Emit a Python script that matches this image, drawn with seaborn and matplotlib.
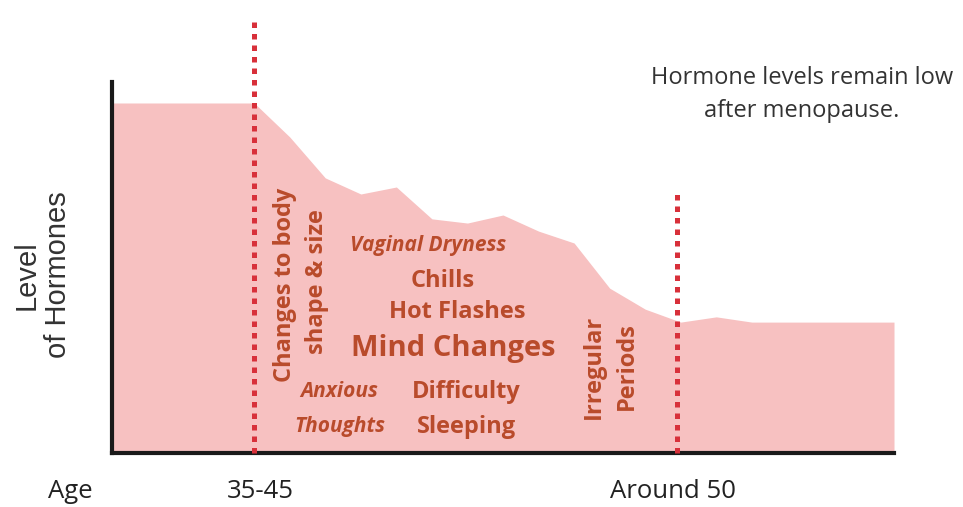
import matplotlib
matplotlib.use("Agg")
import matplotlib.pyplot as plt
import matplotlib.transforms as mtransforms
import seaborn as sns
import numpy as np
import pandas as pd

# ---- data ----
step = list(range(23))
level = [100, 100, 100, 100, 100, 90.3, 78.6, 74.0, 76.0, 66.9, 65.7, 68.0, 63.4,
         60.0, 47.1, 41.1, 37.4, 38.9, 37.4, 37.4, 37.4, 37.4, 37.4]
marker_x = [4, 15.9]
marker_top = [125, 74.8]
age_labels = ["Age", "35-45", "Around 50"]
age_x = [-1.18, 4.16, 15.78]

symptoms = [
    ("Changes to body", 4.86, 48, 90, "normal"),
    ("shape & size", 5.76, 49, 90, "normal"),
    ("Vaginal Dryness", 8.9, 59.2, 0, "italic"),
    ("Chills", 9.3, 49.1, 0, "normal"),
    ("Hot Flashes", 9.7, 40.4, 0, "normal"),
    ("Mind Changes", 9.6, 29.9, 0, "normal"),
    ("Anxious", 6.4, 17.6, 0, "italic"),
    ("Thoughts", 6.4, 7.7, 0, "italic"),
    ("Difficulty", 9.97, 17.3, 0, "normal"),
    ("Sleeping", 9.97, 7.4, 0, "normal"),
    ("Irregular", 13.56, 24.6, 90, "normal"),
    ("Periods", 14.48, 24.9, 90, "normal"),
]
sizes = {"Mind Changes": 21}

sns.set_theme(style="white")
plt.rcParams['font.family'] = ['Open Sans', 'DejaVu Sans']

fig = plt.figure(figsize=(9.63, 5.07), dpi=100)
ax = fig.add_axes([112/963, 1-453/507, (894-112)/963, (453-82)/507])

df = pd.DataFrame({"step": step, "level": level})
sns.lineplot(data=df, x="step", y="level", ax=ax, color="#f7c1c1", linewidth=0)
ax.fill_between(df["step"], df["level"], 0, color="#f7c1c1", linewidth=0)

ax.set_xlim(0, 22)
ax.set_ylim(0, 106)

red = "#d8303a"
for mx, mt in zip(marker_x, marker_top):
    ax.plot([mx, mx], [0, mt], color=red, linewidth=3.6, linestyle=(0, (1.1, 1.2)),
            clip_on=False, solid_capstyle="butt", dash_capstyle="butt", zorder=3)

brown = "#b94b2b"
for txt, x, y, rot, style in symptoms:
    fs = sizes.get(txt, 15 if style == "italic" else 17)
    ax.text(x, y, txt, rotation=rot, ha="center", va="center", fontsize=fs,
            color=brown, fontweight="bold", fontstyle=style, zorder=4)

for spine in ["top", "right"]:
    ax.spines[spine].set_visible(False)
ax.spines["left"].set_color("#1a1a1a")
ax.spines["left"].set_linewidth(3)
ax.spines["bottom"].set_color("#1a1a1a")
ax.spines["bottom"].set_linewidth(3)
ax.set_xticks([])
ax.set_yticks([])
ax.set_xlabel("")
ax.set_ylabel("")

dark = "#333333"
fig.text(802/963, 1-94/507, "Hormone levels remain low\nafter menopause.", ha="center",
         va="center", fontsize=17, color=dark, linespacing=1.5)
fig.text(42/963, 1-275/507, "Level\nof Hormones", ha="center", va="center", rotation=90,
         fontsize=21, color=dark, linespacing=1.15, family=["Liberation Sans", "DejaVu Sans"])

trans = mtransforms.blended_transform_factory(ax.transData, fig.transFigure)
for lab, x in zip(age_labels, age_x):
    ax.text(x, 1-498/507, lab, transform=trans, ha="center", va="baseline",
            fontsize=18.5, color="#222222")

fig.savefig("out.png", dpi=100)
